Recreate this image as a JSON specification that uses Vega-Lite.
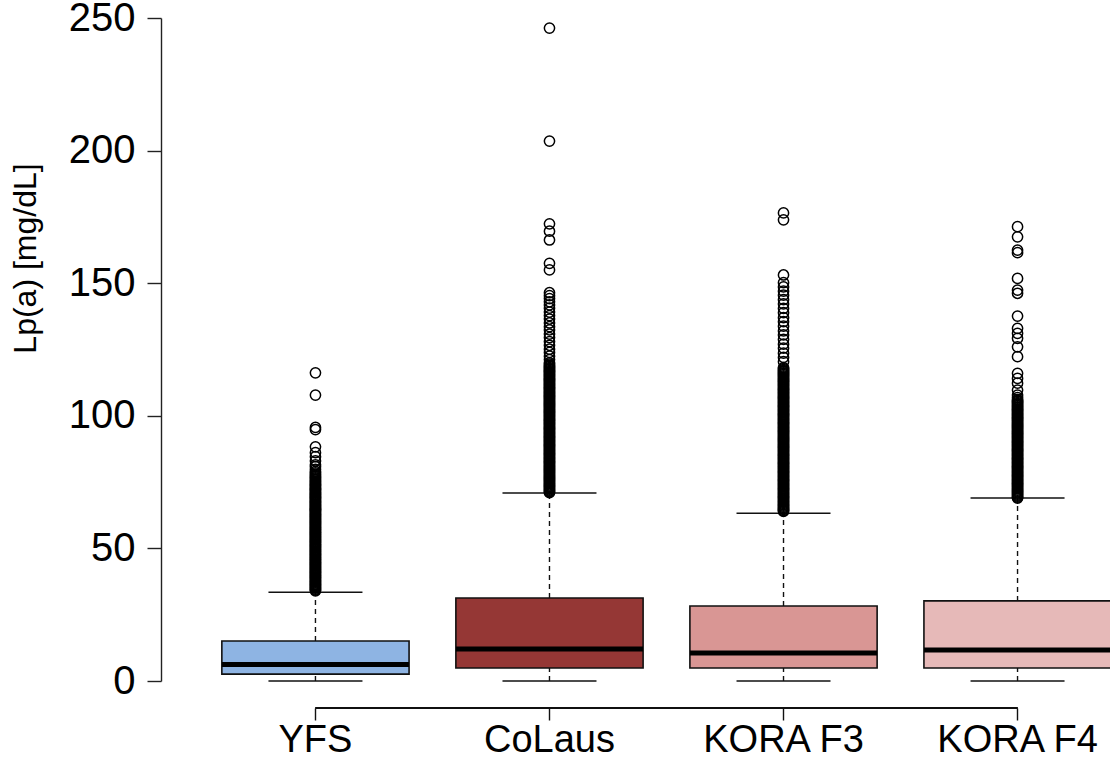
{
  "$schema": "https://vega.github.io/schema/vega-lite/v6.json",
  "width": 949,
  "height": 663,
  "autosize": {"type": "none"},
  "padding": {"left": 161, "top": 18, "right": 0, "bottom": 81},
  "background": "white",
  "view": {"stroke": null},
  "config": {"font": "Liberation Sans", "axis": {"grid": false}},
  "datasets": {
    "stats": [
      {"cohort": "YFS", "lo": 0, "q1": 2.6, "median": 6.2, "q3": 15.1, "hi": 33.5},
      {"cohort": "CoLaus", "lo": 0, "q1": 4.9, "median": 12.1, "q3": 31.3, "hi": 70.9},
      {"cohort": "KORA F3", "lo": 0, "q1": 4.9, "median": 10.6, "q3": 28.3, "hi": 63.3},
      {"cohort": "KORA F4", "lo": 0, "q1": 4.9, "median": 11.7, "q3": 30.2, "hi": 69.0}
    ],
    "outliers": [
      {"cohort": "YFS", "lpa": 34.0}, {"cohort": "YFS", "lpa": 34.6}, {"cohort": "YFS", "lpa": 35.3}, {"cohort": "YFS", "lpa": 36.0},
      {"cohort": "YFS", "lpa": 36.6}, {"cohort": "YFS", "lpa": 37.3}, {"cohort": "YFS", "lpa": 38.0}, {"cohort": "YFS", "lpa": 38.7},
      {"cohort": "YFS", "lpa": 39.3}, {"cohort": "YFS", "lpa": 40.0}, {"cohort": "YFS", "lpa": 40.7}, {"cohort": "YFS", "lpa": 41.3},
      {"cohort": "YFS", "lpa": 42.0}, {"cohort": "YFS", "lpa": 42.7}, {"cohort": "YFS", "lpa": 43.4}, {"cohort": "YFS", "lpa": 44.0},
      {"cohort": "YFS", "lpa": 44.7}, {"cohort": "YFS", "lpa": 45.4}, {"cohort": "YFS", "lpa": 46.0}, {"cohort": "YFS", "lpa": 46.7},
      {"cohort": "YFS", "lpa": 47.4}, {"cohort": "YFS", "lpa": 48.0}, {"cohort": "YFS", "lpa": 48.7}, {"cohort": "YFS", "lpa": 49.4},
      {"cohort": "YFS", "lpa": 50.1}, {"cohort": "YFS", "lpa": 50.7}, {"cohort": "YFS", "lpa": 51.4}, {"cohort": "YFS", "lpa": 52.1},
      {"cohort": "YFS", "lpa": 52.7}, {"cohort": "YFS", "lpa": 53.4}, {"cohort": "YFS", "lpa": 54.1}, {"cohort": "YFS", "lpa": 54.8},
      {"cohort": "YFS", "lpa": 55.4}, {"cohort": "YFS", "lpa": 56.1}, {"cohort": "YFS", "lpa": 56.8}, {"cohort": "YFS", "lpa": 57.4},
      {"cohort": "YFS", "lpa": 58.1}, {"cohort": "YFS", "lpa": 58.8}, {"cohort": "YFS", "lpa": 59.5}, {"cohort": "YFS", "lpa": 60.1},
      {"cohort": "YFS", "lpa": 60.8}, {"cohort": "YFS", "lpa": 61.5}, {"cohort": "YFS", "lpa": 62.1}, {"cohort": "YFS", "lpa": 62.8},
      {"cohort": "YFS", "lpa": 63.5}, {"cohort": "YFS", "lpa": 64.2}, {"cohort": "YFS", "lpa": 64.8}, {"cohort": "YFS", "lpa": 65.5},
      {"cohort": "YFS", "lpa": 66.2}, {"cohort": "YFS", "lpa": 66.8}, {"cohort": "YFS", "lpa": 67.5}, {"cohort": "YFS", "lpa": 68.2},
      {"cohort": "YFS", "lpa": 68.9}, {"cohort": "YFS", "lpa": 69.5}, {"cohort": "YFS", "lpa": 70.2}, {"cohort": "YFS", "lpa": 70.9},
      {"cohort": "YFS", "lpa": 71.6}, {"cohort": "YFS", "lpa": 72.3}, {"cohort": "YFS", "lpa": 73.0}, {"cohort": "YFS", "lpa": 73.8},
      {"cohort": "YFS", "lpa": 74.5}, {"cohort": "YFS", "lpa": 75.3}, {"cohort": "YFS", "lpa": 76.2}, {"cohort": "YFS", "lpa": 77.0},
      {"cohort": "YFS", "lpa": 78.0}, {"cohort": "YFS", "lpa": 79.0}, {"cohort": "YFS", "lpa": 79.8}, {"cohort": "YFS", "lpa": 80.8},
      {"cohort": "YFS", "lpa": 81.5}, {"cohort": "YFS", "lpa": 83.0}, {"cohort": "YFS", "lpa": 84.6}, {"cohort": "YFS", "lpa": 86.1},
      {"cohort": "YFS", "lpa": 88.3}, {"cohort": "YFS", "lpa": 94.8}, {"cohort": "YFS", "lpa": 95.6}, {"cohort": "YFS", "lpa": 107.8},
      {"cohort": "YFS", "lpa": 116.2},
      {"cohort": "YFS", "lpa": 34.3}, {"cohort": "YFS", "lpa": 35.0}, {"cohort": "YFS", "lpa": 35.6}, {"cohort": "YFS", "lpa": 36.3},
      {"cohort": "YFS", "lpa": 37.0}, {"cohort": "YFS", "lpa": 37.6}, {"cohort": "YFS", "lpa": 38.3}, {"cohort": "YFS", "lpa": 39.0},
      {"cohort": "YFS", "lpa": 39.7}, {"cohort": "YFS", "lpa": 40.3}, {"cohort": "YFS", "lpa": 41.0}, {"cohort": "YFS", "lpa": 41.7},
      {"cohort": "YFS", "lpa": 42.3}, {"cohort": "YFS", "lpa": 43.0}, {"cohort": "YFS", "lpa": 43.7}, {"cohort": "YFS", "lpa": 44.4},
      {"cohort": "YFS", "lpa": 45.0}, {"cohort": "YFS", "lpa": 45.7}, {"cohort": "YFS", "lpa": 46.4}, {"cohort": "YFS", "lpa": 47.0},
      {"cohort": "YFS", "lpa": 47.7}, {"cohort": "YFS", "lpa": 48.4}, {"cohort": "YFS", "lpa": 49.0}, {"cohort": "YFS", "lpa": 49.7},
      {"cohort": "YFS", "lpa": 50.4}, {"cohort": "YFS", "lpa": 51.1}, {"cohort": "YFS", "lpa": 51.7}, {"cohort": "YFS", "lpa": 52.4},
      {"cohort": "YFS", "lpa": 53.1}, {"cohort": "YFS", "lpa": 53.7}, {"cohort": "YFS", "lpa": 54.4}, {"cohort": "YFS", "lpa": 55.1},
      {"cohort": "YFS", "lpa": 55.8}, {"cohort": "YFS", "lpa": 56.4}, {"cohort": "YFS", "lpa": 57.1}, {"cohort": "YFS", "lpa": 57.8},
      {"cohort": "YFS", "lpa": 58.4}, {"cohort": "YFS", "lpa": 59.1}, {"cohort": "YFS", "lpa": 59.8}, {"cohort": "YFS", "lpa": 60.4},
      {"cohort": "YFS", "lpa": 61.1}, {"cohort": "YFS", "lpa": 61.8}, {"cohort": "YFS", "lpa": 62.5}, {"cohort": "YFS", "lpa": 63.1},
      {"cohort": "YFS", "lpa": 63.8}, {"cohort": "YFS", "lpa": 64.5}, {"cohort": "YFS", "lpa": 65.1}, {"cohort": "YFS", "lpa": 65.8},
      {"cohort": "YFS", "lpa": 66.5}, {"cohort": "YFS", "lpa": 67.2}, {"cohort": "YFS", "lpa": 67.8}, {"cohort": "YFS", "lpa": 68.5},
      {"cohort": "YFS", "lpa": 69.2}, {"cohort": "YFS", "lpa": 69.9}, {"cohort": "YFS", "lpa": 70.5}, {"cohort": "YFS", "lpa": 71.2},
      {"cohort": "YFS", "lpa": 72.0}, {"cohort": "YFS", "lpa": 72.6}, {"cohort": "YFS", "lpa": 73.4}, {"cohort": "YFS", "lpa": 74.1},
      {"cohort": "YFS", "lpa": 74.9}, {"cohort": "YFS", "lpa": 75.7}, {"cohort": "YFS", "lpa": 76.6}, {"cohort": "YFS", "lpa": 77.5},
      {"cohort": "YFS", "lpa": 78.5},

      {"cohort": "CoLaus", "lpa": 71.0}, {"cohort": "CoLaus", "lpa": 71.7}, {"cohort": "CoLaus", "lpa": 72.5}, {"cohort": "CoLaus", "lpa": 73.3},
      {"cohort": "CoLaus", "lpa": 74.0}, {"cohort": "CoLaus", "lpa": 74.8}, {"cohort": "CoLaus", "lpa": 75.6}, {"cohort": "CoLaus", "lpa": 76.4},
      {"cohort": "CoLaus", "lpa": 77.1}, {"cohort": "CoLaus", "lpa": 77.9}, {"cohort": "CoLaus", "lpa": 78.7}, {"cohort": "CoLaus", "lpa": 79.5},
      {"cohort": "CoLaus", "lpa": 80.2}, {"cohort": "CoLaus", "lpa": 81.0}, {"cohort": "CoLaus", "lpa": 81.8}, {"cohort": "CoLaus", "lpa": 82.6},
      {"cohort": "CoLaus", "lpa": 83.3}, {"cohort": "CoLaus", "lpa": 84.1}, {"cohort": "CoLaus", "lpa": 84.9}, {"cohort": "CoLaus", "lpa": 85.7},
      {"cohort": "CoLaus", "lpa": 86.4}, {"cohort": "CoLaus", "lpa": 87.2}, {"cohort": "CoLaus", "lpa": 88.0}, {"cohort": "CoLaus", "lpa": 88.8},
      {"cohort": "CoLaus", "lpa": 89.5}, {"cohort": "CoLaus", "lpa": 90.3}, {"cohort": "CoLaus", "lpa": 91.1}, {"cohort": "CoLaus", "lpa": 91.9},
      {"cohort": "CoLaus", "lpa": 92.6}, {"cohort": "CoLaus", "lpa": 93.4}, {"cohort": "CoLaus", "lpa": 94.2}, {"cohort": "CoLaus", "lpa": 95.0},
      {"cohort": "CoLaus", "lpa": 95.7}, {"cohort": "CoLaus", "lpa": 96.5}, {"cohort": "CoLaus", "lpa": 97.3}, {"cohort": "CoLaus", "lpa": 98.1},
      {"cohort": "CoLaus", "lpa": 98.8}, {"cohort": "CoLaus", "lpa": 99.6}, {"cohort": "CoLaus", "lpa": 100.4}, {"cohort": "CoLaus", "lpa": 101.2},
      {"cohort": "CoLaus", "lpa": 101.9}, {"cohort": "CoLaus", "lpa": 102.7}, {"cohort": "CoLaus", "lpa": 103.5}, {"cohort": "CoLaus", "lpa": 104.3},
      {"cohort": "CoLaus", "lpa": 105.0}, {"cohort": "CoLaus", "lpa": 105.8}, {"cohort": "CoLaus", "lpa": 106.6}, {"cohort": "CoLaus", "lpa": 107.4},
      {"cohort": "CoLaus", "lpa": 108.1}, {"cohort": "CoLaus", "lpa": 108.9}, {"cohort": "CoLaus", "lpa": 109.7}, {"cohort": "CoLaus", "lpa": 110.5},
      {"cohort": "CoLaus", "lpa": 111.2}, {"cohort": "CoLaus", "lpa": 112.0}, {"cohort": "CoLaus", "lpa": 112.8}, {"cohort": "CoLaus", "lpa": 113.6},
      {"cohort": "CoLaus", "lpa": 114.3}, {"cohort": "CoLaus", "lpa": 115.1}, {"cohort": "CoLaus", "lpa": 115.9}, {"cohort": "CoLaus", "lpa": 116.7},
      {"cohort": "CoLaus", "lpa": 117.4}, {"cohort": "CoLaus", "lpa": 118.2}, {"cohort": "CoLaus", "lpa": 119.0}, {"cohort": "CoLaus", "lpa": 120.0},
      {"cohort": "CoLaus", "lpa": 121.2}, {"cohort": "CoLaus", "lpa": 122.5}, {"cohort": "CoLaus", "lpa": 123.9}, {"cohort": "CoLaus", "lpa": 125.1},
      {"cohort": "CoLaus", "lpa": 126.6}, {"cohort": "CoLaus", "lpa": 128.0}, {"cohort": "CoLaus", "lpa": 129.5}, {"cohort": "CoLaus", "lpa": 130.8},
      {"cohort": "CoLaus", "lpa": 132.4}, {"cohort": "CoLaus", "lpa": 133.6}, {"cohort": "CoLaus", "lpa": 135.0}, {"cohort": "CoLaus", "lpa": 136.5},
      {"cohort": "CoLaus", "lpa": 137.8}, {"cohort": "CoLaus", "lpa": 139.1}, {"cohort": "CoLaus", "lpa": 140.6}, {"cohort": "CoLaus", "lpa": 141.8},
      {"cohort": "CoLaus", "lpa": 143.0}, {"cohort": "CoLaus", "lpa": 144.2}, {"cohort": "CoLaus", "lpa": 145.3}, {"cohort": "CoLaus", "lpa": 146.4},
      {"cohort": "CoLaus", "lpa": 155.0}, {"cohort": "CoLaus", "lpa": 157.5}, {"cohort": "CoLaus", "lpa": 166.3}, {"cohort": "CoLaus", "lpa": 169.6},
      {"cohort": "CoLaus", "lpa": 172.4}, {"cohort": "CoLaus", "lpa": 203.6}, {"cohort": "CoLaus", "lpa": 246.2},
      {"cohort": "CoLaus", "lpa": 71.4}, {"cohort": "CoLaus", "lpa": 72.1}, {"cohort": "CoLaus", "lpa": 72.9}, {"cohort": "CoLaus", "lpa": 73.6},
      {"cohort": "CoLaus", "lpa": 74.4}, {"cohort": "CoLaus", "lpa": 75.2}, {"cohort": "CoLaus", "lpa": 76.0}, {"cohort": "CoLaus", "lpa": 76.7},
      {"cohort": "CoLaus", "lpa": 77.5}, {"cohort": "CoLaus", "lpa": 78.3}, {"cohort": "CoLaus", "lpa": 79.1}, {"cohort": "CoLaus", "lpa": 79.8},
      {"cohort": "CoLaus", "lpa": 80.6}, {"cohort": "CoLaus", "lpa": 81.4}, {"cohort": "CoLaus", "lpa": 82.2}, {"cohort": "CoLaus", "lpa": 82.9},
      {"cohort": "CoLaus", "lpa": 83.7}, {"cohort": "CoLaus", "lpa": 84.5}, {"cohort": "CoLaus", "lpa": 85.3}, {"cohort": "CoLaus", "lpa": 86.0},
      {"cohort": "CoLaus", "lpa": 86.8}, {"cohort": "CoLaus", "lpa": 87.6}, {"cohort": "CoLaus", "lpa": 88.4}, {"cohort": "CoLaus", "lpa": 89.1},
      {"cohort": "CoLaus", "lpa": 89.9}, {"cohort": "CoLaus", "lpa": 90.7}, {"cohort": "CoLaus", "lpa": 91.5}, {"cohort": "CoLaus", "lpa": 92.2},
      {"cohort": "CoLaus", "lpa": 93.0}, {"cohort": "CoLaus", "lpa": 93.8}, {"cohort": "CoLaus", "lpa": 94.6}, {"cohort": "CoLaus", "lpa": 95.3},
      {"cohort": "CoLaus", "lpa": 96.1}, {"cohort": "CoLaus", "lpa": 96.9}, {"cohort": "CoLaus", "lpa": 97.7}, {"cohort": "CoLaus", "lpa": 98.4},
      {"cohort": "CoLaus", "lpa": 99.2}, {"cohort": "CoLaus", "lpa": 100.0}, {"cohort": "CoLaus", "lpa": 100.8}, {"cohort": "CoLaus", "lpa": 101.5},
      {"cohort": "CoLaus", "lpa": 102.3}, {"cohort": "CoLaus", "lpa": 103.1}, {"cohort": "CoLaus", "lpa": 103.9}, {"cohort": "CoLaus", "lpa": 104.6},
      {"cohort": "CoLaus", "lpa": 105.4}, {"cohort": "CoLaus", "lpa": 106.2}, {"cohort": "CoLaus", "lpa": 107.0}, {"cohort": "CoLaus", "lpa": 107.7},
      {"cohort": "CoLaus", "lpa": 108.5}, {"cohort": "CoLaus", "lpa": 109.3}, {"cohort": "CoLaus", "lpa": 110.1}, {"cohort": "CoLaus", "lpa": 110.8},
      {"cohort": "CoLaus", "lpa": 111.6}, {"cohort": "CoLaus", "lpa": 112.4}, {"cohort": "CoLaus", "lpa": 113.2}, {"cohort": "CoLaus", "lpa": 113.9},
      {"cohort": "CoLaus", "lpa": 114.7}, {"cohort": "CoLaus", "lpa": 115.5}, {"cohort": "CoLaus", "lpa": 116.3}, {"cohort": "CoLaus", "lpa": 117.0},
      {"cohort": "CoLaus", "lpa": 117.8}, {"cohort": "CoLaus", "lpa": 118.6}, {"cohort": "CoLaus", "lpa": 119.5},

      {"cohort": "KORA F3", "lpa": 64.0}, {"cohort": "KORA F3", "lpa": 64.7}, {"cohort": "KORA F3", "lpa": 65.5}, {"cohort": "KORA F3", "lpa": 66.3},
      {"cohort": "KORA F3", "lpa": 67.0}, {"cohort": "KORA F3", "lpa": 67.8}, {"cohort": "KORA F3", "lpa": 68.6}, {"cohort": "KORA F3", "lpa": 69.4},
      {"cohort": "KORA F3", "lpa": 70.1}, {"cohort": "KORA F3", "lpa": 70.9}, {"cohort": "KORA F3", "lpa": 71.7}, {"cohort": "KORA F3", "lpa": 72.5},
      {"cohort": "KORA F3", "lpa": 73.2}, {"cohort": "KORA F3", "lpa": 74.0}, {"cohort": "KORA F3", "lpa": 74.8}, {"cohort": "KORA F3", "lpa": 75.6},
      {"cohort": "KORA F3", "lpa": 76.3}, {"cohort": "KORA F3", "lpa": 77.1}, {"cohort": "KORA F3", "lpa": 77.9}, {"cohort": "KORA F3", "lpa": 78.7},
      {"cohort": "KORA F3", "lpa": 79.4}, {"cohort": "KORA F3", "lpa": 80.2}, {"cohort": "KORA F3", "lpa": 81.0}, {"cohort": "KORA F3", "lpa": 81.8},
      {"cohort": "KORA F3", "lpa": 82.5}, {"cohort": "KORA F3", "lpa": 83.3}, {"cohort": "KORA F3", "lpa": 84.1}, {"cohort": "KORA F3", "lpa": 84.9},
      {"cohort": "KORA F3", "lpa": 85.6}, {"cohort": "KORA F3", "lpa": 86.4}, {"cohort": "KORA F3", "lpa": 87.2}, {"cohort": "KORA F3", "lpa": 88.0},
      {"cohort": "KORA F3", "lpa": 88.7}, {"cohort": "KORA F3", "lpa": 89.5}, {"cohort": "KORA F3", "lpa": 90.3}, {"cohort": "KORA F3", "lpa": 91.1},
      {"cohort": "KORA F3", "lpa": 91.8}, {"cohort": "KORA F3", "lpa": 92.6}, {"cohort": "KORA F3", "lpa": 93.4}, {"cohort": "KORA F3", "lpa": 94.2},
      {"cohort": "KORA F3", "lpa": 94.9}, {"cohort": "KORA F3", "lpa": 95.7}, {"cohort": "KORA F3", "lpa": 96.5}, {"cohort": "KORA F3", "lpa": 97.3},
      {"cohort": "KORA F3", "lpa": 98.0}, {"cohort": "KORA F3", "lpa": 98.8}, {"cohort": "KORA F3", "lpa": 99.6}, {"cohort": "KORA F3", "lpa": 100.4},
      {"cohort": "KORA F3", "lpa": 101.1}, {"cohort": "KORA F3", "lpa": 101.9}, {"cohort": "KORA F3", "lpa": 102.7}, {"cohort": "KORA F3", "lpa": 103.5},
      {"cohort": "KORA F3", "lpa": 104.2}, {"cohort": "KORA F3", "lpa": 105.0}, {"cohort": "KORA F3", "lpa": 105.8}, {"cohort": "KORA F3", "lpa": 106.6},
      {"cohort": "KORA F3", "lpa": 107.3}, {"cohort": "KORA F3", "lpa": 108.1}, {"cohort": "KORA F3", "lpa": 108.9}, {"cohort": "KORA F3", "lpa": 109.7},
      {"cohort": "KORA F3", "lpa": 110.4}, {"cohort": "KORA F3", "lpa": 111.2}, {"cohort": "KORA F3", "lpa": 112.0}, {"cohort": "KORA F3", "lpa": 112.8},
      {"cohort": "KORA F3", "lpa": 113.5}, {"cohort": "KORA F3", "lpa": 114.3}, {"cohort": "KORA F3", "lpa": 115.1}, {"cohort": "KORA F3", "lpa": 115.9},
      {"cohort": "KORA F3", "lpa": 116.6}, {"cohort": "KORA F3", "lpa": 117.4}, {"cohort": "KORA F3", "lpa": 118.2}, {"cohort": "KORA F3", "lpa": 120.4},
      {"cohort": "KORA F3", "lpa": 122.0}, {"cohort": "KORA F3", "lpa": 123.6}, {"cohort": "KORA F3", "lpa": 125.5}, {"cohort": "KORA F3", "lpa": 127.0},
      {"cohort": "KORA F3", "lpa": 128.8}, {"cohort": "KORA F3", "lpa": 130.5}, {"cohort": "KORA F3", "lpa": 132.0}, {"cohort": "KORA F3", "lpa": 133.8},
      {"cohort": "KORA F3", "lpa": 135.5}, {"cohort": "KORA F3", "lpa": 137.0}, {"cohort": "KORA F3", "lpa": 138.9}, {"cohort": "KORA F3", "lpa": 140.5},
      {"cohort": "KORA F3", "lpa": 142.2}, {"cohort": "KORA F3", "lpa": 143.8}, {"cohort": "KORA F3", "lpa": 145.5}, {"cohort": "KORA F3", "lpa": 147.0},
      {"cohort": "KORA F3", "lpa": 148.6}, {"cohort": "KORA F3", "lpa": 150.2}, {"cohort": "KORA F3", "lpa": 153.1}, {"cohort": "KORA F3", "lpa": 173.9},
      {"cohort": "KORA F3", "lpa": 176.5},
      {"cohort": "KORA F3", "lpa": 64.3}, {"cohort": "KORA F3", "lpa": 65.1}, {"cohort": "KORA F3", "lpa": 65.9}, {"cohort": "KORA F3", "lpa": 66.6},
      {"cohort": "KORA F3", "lpa": 67.4}, {"cohort": "KORA F3", "lpa": 68.2}, {"cohort": "KORA F3", "lpa": 69.0}, {"cohort": "KORA F3", "lpa": 69.7},
      {"cohort": "KORA F3", "lpa": 70.5}, {"cohort": "KORA F3", "lpa": 71.3}, {"cohort": "KORA F3", "lpa": 72.1}, {"cohort": "KORA F3", "lpa": 72.8},
      {"cohort": "KORA F3", "lpa": 73.6}, {"cohort": "KORA F3", "lpa": 74.4}, {"cohort": "KORA F3", "lpa": 75.2}, {"cohort": "KORA F3", "lpa": 75.9},
      {"cohort": "KORA F3", "lpa": 76.7}, {"cohort": "KORA F3", "lpa": 77.5}, {"cohort": "KORA F3", "lpa": 78.3}, {"cohort": "KORA F3", "lpa": 79.0},
      {"cohort": "KORA F3", "lpa": 79.8}, {"cohort": "KORA F3", "lpa": 80.6}, {"cohort": "KORA F3", "lpa": 81.4}, {"cohort": "KORA F3", "lpa": 82.1},
      {"cohort": "KORA F3", "lpa": 82.9}, {"cohort": "KORA F3", "lpa": 83.7}, {"cohort": "KORA F3", "lpa": 84.5}, {"cohort": "KORA F3", "lpa": 85.2},
      {"cohort": "KORA F3", "lpa": 86.0}, {"cohort": "KORA F3", "lpa": 86.8}, {"cohort": "KORA F3", "lpa": 87.6}, {"cohort": "KORA F3", "lpa": 88.3},
      {"cohort": "KORA F3", "lpa": 89.1}, {"cohort": "KORA F3", "lpa": 89.9}, {"cohort": "KORA F3", "lpa": 90.7}, {"cohort": "KORA F3", "lpa": 91.4},
      {"cohort": "KORA F3", "lpa": 92.2}, {"cohort": "KORA F3", "lpa": 93.0}, {"cohort": "KORA F3", "lpa": 93.8}, {"cohort": "KORA F3", "lpa": 94.5},
      {"cohort": "KORA F3", "lpa": 95.3}, {"cohort": "KORA F3", "lpa": 96.1}, {"cohort": "KORA F3", "lpa": 96.9}, {"cohort": "KORA F3", "lpa": 97.6},
      {"cohort": "KORA F3", "lpa": 98.4}, {"cohort": "KORA F3", "lpa": 99.2}, {"cohort": "KORA F3", "lpa": 100.0}, {"cohort": "KORA F3", "lpa": 100.7},
      {"cohort": "KORA F3", "lpa": 101.5}, {"cohort": "KORA F3", "lpa": 102.3}, {"cohort": "KORA F3", "lpa": 103.1}, {"cohort": "KORA F3", "lpa": 103.8},
      {"cohort": "KORA F3", "lpa": 104.6}, {"cohort": "KORA F3", "lpa": 105.4}, {"cohort": "KORA F3", "lpa": 106.2}, {"cohort": "KORA F3", "lpa": 106.9},
      {"cohort": "KORA F3", "lpa": 107.7}, {"cohort": "KORA F3", "lpa": 108.5}, {"cohort": "KORA F3", "lpa": 109.3}, {"cohort": "KORA F3", "lpa": 110.0},
      {"cohort": "KORA F3", "lpa": 110.8}, {"cohort": "KORA F3", "lpa": 111.6}, {"cohort": "KORA F3", "lpa": 112.4}, {"cohort": "KORA F3", "lpa": 113.1},
      {"cohort": "KORA F3", "lpa": 113.9}, {"cohort": "KORA F3", "lpa": 114.7}, {"cohort": "KORA F3", "lpa": 115.5}, {"cohort": "KORA F3", "lpa": 116.2},
      {"cohort": "KORA F3", "lpa": 117.0}, {"cohort": "KORA F3", "lpa": 117.8},

      {"cohort": "KORA F4", "lpa": 69.0}, {"cohort": "KORA F4", "lpa": 69.7}, {"cohort": "KORA F4", "lpa": 70.5}, {"cohort": "KORA F4", "lpa": 71.3},
      {"cohort": "KORA F4", "lpa": 72.0}, {"cohort": "KORA F4", "lpa": 72.8}, {"cohort": "KORA F4", "lpa": 73.6}, {"cohort": "KORA F4", "lpa": 74.4},
      {"cohort": "KORA F4", "lpa": 75.1}, {"cohort": "KORA F4", "lpa": 75.9}, {"cohort": "KORA F4", "lpa": 76.7}, {"cohort": "KORA F4", "lpa": 77.5},
      {"cohort": "KORA F4", "lpa": 78.2}, {"cohort": "KORA F4", "lpa": 79.0}, {"cohort": "KORA F4", "lpa": 79.8}, {"cohort": "KORA F4", "lpa": 80.6},
      {"cohort": "KORA F4", "lpa": 81.3}, {"cohort": "KORA F4", "lpa": 82.1}, {"cohort": "KORA F4", "lpa": 82.9}, {"cohort": "KORA F4", "lpa": 83.7},
      {"cohort": "KORA F4", "lpa": 84.4}, {"cohort": "KORA F4", "lpa": 85.2}, {"cohort": "KORA F4", "lpa": 86.0}, {"cohort": "KORA F4", "lpa": 86.8},
      {"cohort": "KORA F4", "lpa": 87.5}, {"cohort": "KORA F4", "lpa": 88.3}, {"cohort": "KORA F4", "lpa": 89.1}, {"cohort": "KORA F4", "lpa": 89.9},
      {"cohort": "KORA F4", "lpa": 90.6}, {"cohort": "KORA F4", "lpa": 91.4}, {"cohort": "KORA F4", "lpa": 92.2}, {"cohort": "KORA F4", "lpa": 93.0},
      {"cohort": "KORA F4", "lpa": 93.7}, {"cohort": "KORA F4", "lpa": 94.5}, {"cohort": "KORA F4", "lpa": 95.3}, {"cohort": "KORA F4", "lpa": 96.1},
      {"cohort": "KORA F4", "lpa": 96.8}, {"cohort": "KORA F4", "lpa": 97.6}, {"cohort": "KORA F4", "lpa": 98.4}, {"cohort": "KORA F4", "lpa": 99.2},
      {"cohort": "KORA F4", "lpa": 99.9}, {"cohort": "KORA F4", "lpa": 100.7}, {"cohort": "KORA F4", "lpa": 101.5}, {"cohort": "KORA F4", "lpa": 102.3},
      {"cohort": "KORA F4", "lpa": 103.0}, {"cohort": "KORA F4", "lpa": 103.8}, {"cohort": "KORA F4", "lpa": 104.6}, {"cohort": "KORA F4", "lpa": 105.4},
      {"cohort": "KORA F4", "lpa": 106.1}, {"cohort": "KORA F4", "lpa": 107.8}, {"cohort": "KORA F4", "lpa": 109.7}, {"cohort": "KORA F4", "lpa": 112.3},
      {"cohort": "KORA F4", "lpa": 114.1}, {"cohort": "KORA F4", "lpa": 116.0}, {"cohort": "KORA F4", "lpa": 122.3}, {"cohort": "KORA F4", "lpa": 126.0},
      {"cohort": "KORA F4", "lpa": 129.2}, {"cohort": "KORA F4", "lpa": 131.1}, {"cohort": "KORA F4", "lpa": 133.0}, {"cohort": "KORA F4", "lpa": 137.6},
      {"cohort": "KORA F4", "lpa": 146.2}, {"cohort": "KORA F4", "lpa": 147.4}, {"cohort": "KORA F4", "lpa": 151.8}, {"cohort": "KORA F4", "lpa": 161.5},
      {"cohort": "KORA F4", "lpa": 162.5}, {"cohort": "KORA F4", "lpa": 167.5}, {"cohort": "KORA F4", "lpa": 171.3},
      {"cohort": "KORA F4", "lpa": 69.3}, {"cohort": "KORA F4", "lpa": 70.1}, {"cohort": "KORA F4", "lpa": 70.9}, {"cohort": "KORA F4", "lpa": 71.6},
      {"cohort": "KORA F4", "lpa": 72.4}, {"cohort": "KORA F4", "lpa": 73.2}, {"cohort": "KORA F4", "lpa": 74.0}, {"cohort": "KORA F4", "lpa": 74.7},
      {"cohort": "KORA F4", "lpa": 75.5}, {"cohort": "KORA F4", "lpa": 76.3}, {"cohort": "KORA F4", "lpa": 77.1}, {"cohort": "KORA F4", "lpa": 77.8},
      {"cohort": "KORA F4", "lpa": 78.6}, {"cohort": "KORA F4", "lpa": 79.4}, {"cohort": "KORA F4", "lpa": 80.2}, {"cohort": "KORA F4", "lpa": 80.9},
      {"cohort": "KORA F4", "lpa": 81.7}, {"cohort": "KORA F4", "lpa": 82.5}, {"cohort": "KORA F4", "lpa": 83.3}, {"cohort": "KORA F4", "lpa": 84.0},
      {"cohort": "KORA F4", "lpa": 84.8}, {"cohort": "KORA F4", "lpa": 85.6}, {"cohort": "KORA F4", "lpa": 86.4}, {"cohort": "KORA F4", "lpa": 87.1},
      {"cohort": "KORA F4", "lpa": 87.9}, {"cohort": "KORA F4", "lpa": 88.7}, {"cohort": "KORA F4", "lpa": 89.5}, {"cohort": "KORA F4", "lpa": 90.2},
      {"cohort": "KORA F4", "lpa": 91.0}, {"cohort": "KORA F4", "lpa": 91.8}, {"cohort": "KORA F4", "lpa": 92.6}, {"cohort": "KORA F4", "lpa": 93.3},
      {"cohort": "KORA F4", "lpa": 94.1}, {"cohort": "KORA F4", "lpa": 94.9}, {"cohort": "KORA F4", "lpa": 95.7}, {"cohort": "KORA F4", "lpa": 96.4},
      {"cohort": "KORA F4", "lpa": 97.2}, {"cohort": "KORA F4", "lpa": 98.0}, {"cohort": "KORA F4", "lpa": 98.8}, {"cohort": "KORA F4", "lpa": 99.5},
      {"cohort": "KORA F4", "lpa": 100.3}, {"cohort": "KORA F4", "lpa": 101.1}, {"cohort": "KORA F4", "lpa": 101.9}, {"cohort": "KORA F4", "lpa": 102.6},
      {"cohort": "KORA F4", "lpa": 103.4}, {"cohort": "KORA F4", "lpa": 104.2}, {"cohort": "KORA F4", "lpa": 105.0}, {"cohort": "KORA F4", "lpa": 105.7},
      {"cohort": "KORA F4", "lpa": 106.9}
    ]
  },
  "encoding": {
    "x": {
      "field": "cohort",
      "type": "nominal",
      "sort": ["YFS", "CoLaus", "KORA F3", "KORA F4"],
      "scale": {"domain": ["YFS", "CoLaus", "KORA F3", "KORA F4"], "range": [0, 1011], "paddingInner": 0.2, "paddingOuter": 0.26},
      "axis": {
        "title": null,
        "orient": "bottom",
        "offset": 27,
        "domain": false,
        "ticks": true,
        "tickSize": 12,
        "tickColor": "#111111",
        "tickWidth": 1.4,
        "labelAngle": 0,
        "labelFontSize": 38,
        "labelColor": "#000000",
        "labelPadding": 1,
        "labelFont": "Liberation Sans"
      }
    }
  },
  "layer": [
    {
      "data": {"name": "stats"},
      "mark": {"type": "rule", "color": "#111111", "strokeWidth": 1.4, "strokeDash": [5, 4]},
      "encoding": {
        "y": {"field": "q3", "type": "quantitative", "scale": {"domain": [0, 250], "nice": false, "zero": false},
          "axis": {
            "title": "Lp(a) [mg/dL]",
            "values": [0, 50, 100, 150, 200, 250],
            "domain": true,
            "domainColor": "#222222",
            "domainWidth": 1.4,
            "tickColor": "#222222",
            "tickWidth": 1.4,
            "tickSize": 14,
            "labelFontSize": 40,
            "labelColor": "#000000",
            "labelPadding": 12,
            "labelFont": "Liberation Sans",
            "titleFont": "Liberation Sans",
            "titleFontSize": 32,
            "titleFontWeight": "normal",
            "titleColor": "#000000",
            "titlePadding": 26,
            "titleY": 240
          }
        },
        "y2": {"field": "hi"}
      }
    },
    {
      "data": {"name": "stats"},
      "mark": {"type": "rule", "color": "#111111", "strokeWidth": 1.4, "strokeDash": [5, 4]},
      "encoding": {
        "y": {"field": "lo", "type": "quantitative"},
        "y2": {"field": "q1"}
      }
    },
    {
      "data": {"name": "stats"},
      "mark": {"type": "tick", "color": "#111111", "size": 94, "thickness": 1.5, "opacity": 1},
      "encoding": {"y": {"field": "hi", "type": "quantitative"}}
    },
    {
      "data": {"name": "stats"},
      "mark": {"type": "tick", "color": "#111111", "size": 94, "thickness": 1.5, "opacity": 1},
      "encoding": {"y": {"field": "lo", "type": "quantitative"}}
    },
    {
      "data": {"name": "stats"},
      "mark": {"type": "bar", "stroke": "#111111", "strokeWidth": 1.6, "opacity": 1},
      "encoding": {
        "y": {"field": "q1", "type": "quantitative"},
        "y2": {"field": "q3"},
        "color": {
          "field": "cohort",
          "type": "nominal",
          "scale": {"domain": ["YFS", "CoLaus", "KORA F3", "KORA F4"], "range": ["#8EB4E3", "#953735", "#D99694", "#E6B9B8"]},
          "legend": null
        }
      }
    },
    {
      "data": {"name": "stats"},
      "mark": {"type": "tick", "color": "#000000", "size": 187, "thickness": 5, "opacity": 1},
      "encoding": {"y": {"field": "median", "type": "quantitative"}}
    },
    {
      "data": {"name": "outliers"},
      "mark": {"type": "point", "shape": "circle", "filled": false, "color": "#000000", "strokeWidth": 1.5, "size": 105, "opacity": 1},
      "encoding": {"y": {"field": "lpa", "type": "quantitative"}}
    },
    {
      "data": {"name": "stats"},
      "mark": {"type": "rule", "color": "#111111", "strokeWidth": 1.4, "clip": false},
      "encoding": {
        "x": {"datum": "YFS", "bandPosition": 0.5},
        "x2": {"datum": "KORA F4", "bandPosition": 0.5},
        "y": {"datum": -10.2, "type": "quantitative"}
      }
    }
  ]
}
